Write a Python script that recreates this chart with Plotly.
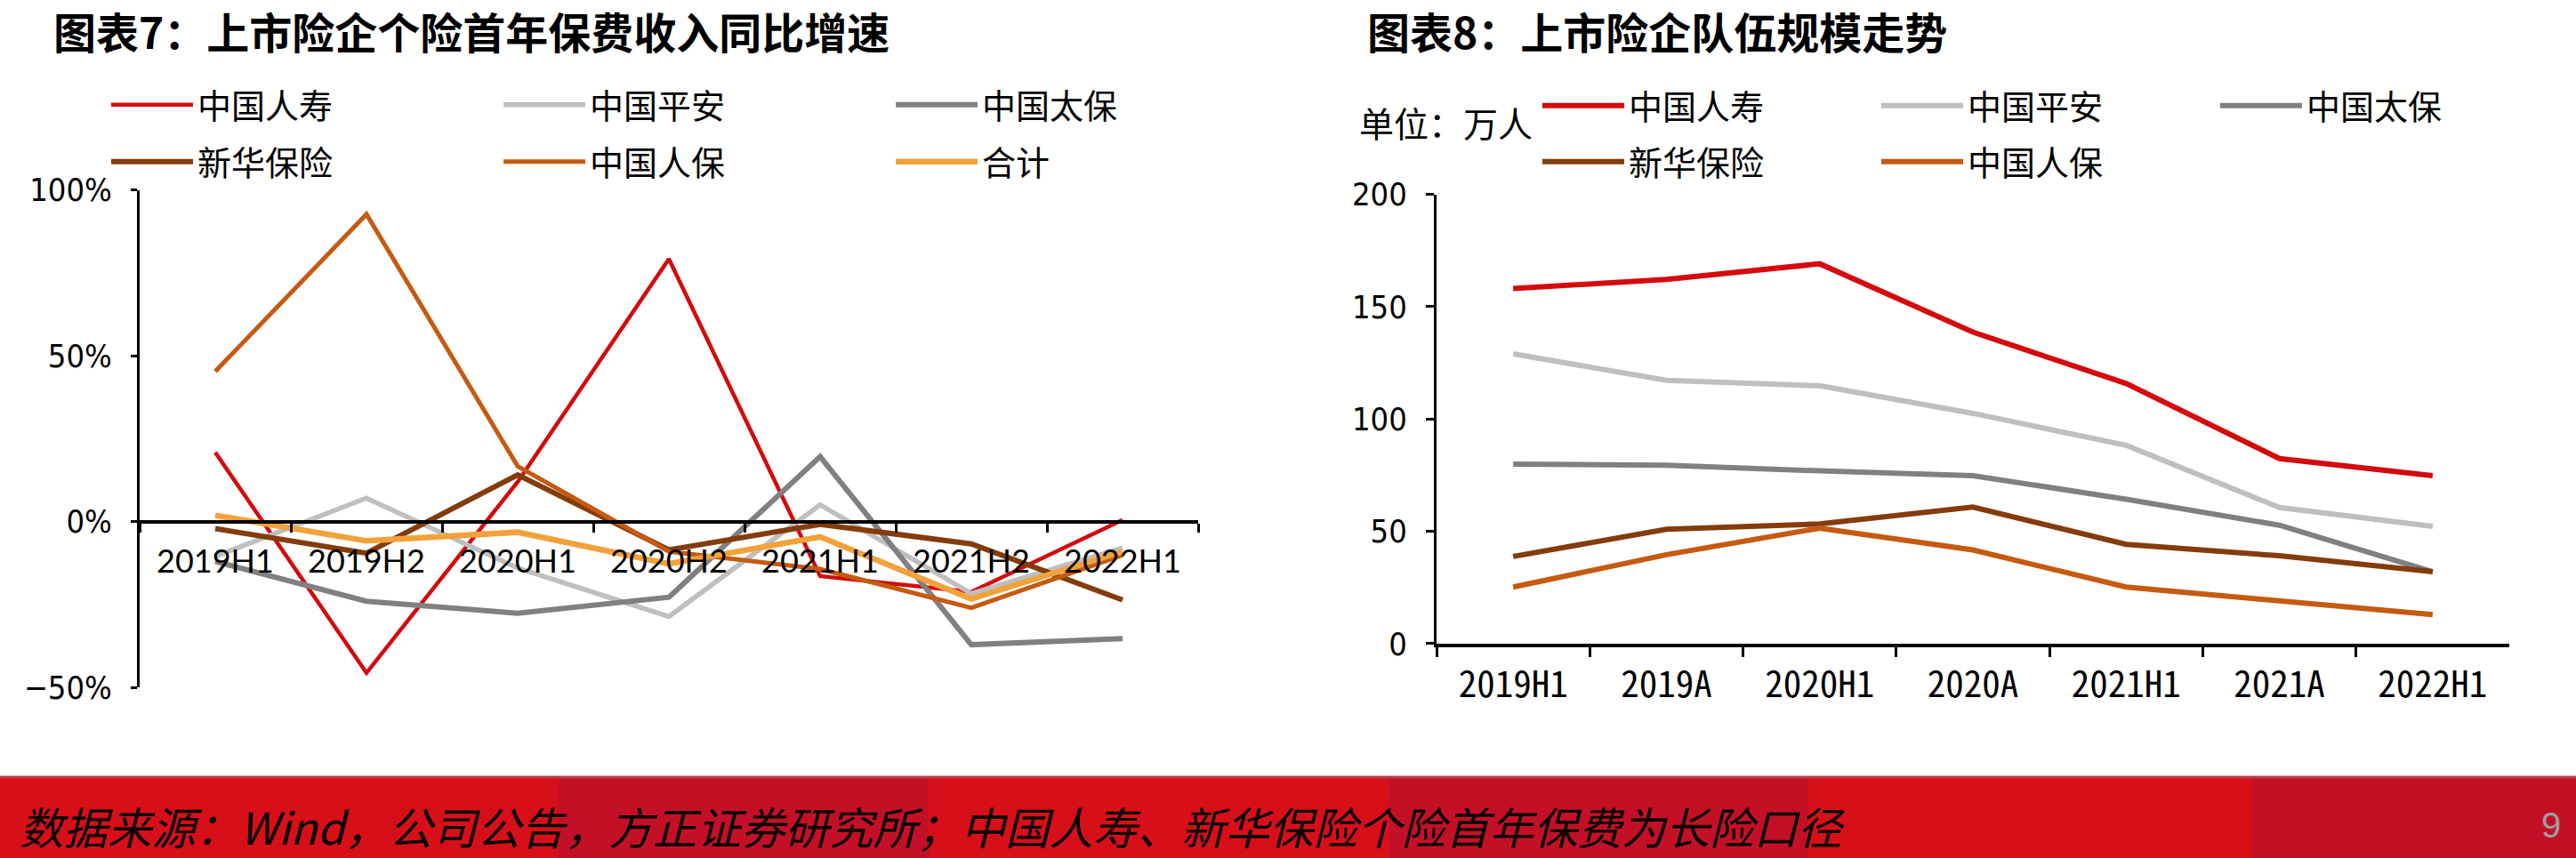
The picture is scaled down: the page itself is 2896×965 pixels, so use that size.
import plotly.graph_objects as go

W, H = 2896, 965

# ---------------- data ----------------
cats_left = ['2019H1', '2019H2', '2020H1', '2020H2', '2021H1', '2021H2', '2022H1']
names = ['中国人寿', '中国平安', '中国太保', '新华保险', '中国人保', '合计']
renshou_g = [20.9, -45.6, 12.0, 79.2, -16.4, -21.2, 0.5]
pingan_g = [-10.5, 7.1, -14.0, -28.6, 5.1, -21.7, -7.9]
taibao_g = [-12.0, -24.0, -27.6, -22.8, 19.6, -37.1, -35.3]
xinhua_g = [-2.1, -9.5, 14.1, -8.5, -0.8, -6.7, -23.6]
renbao_g = [45.3, 92.7, 16.7, -9.0, -14.3, -26.0, -10.1]
total_g = [1.9, -5.8, -3.2, -12.7, -4.6, -23.3, -9.0]

cats_right = ['2019H1', '2019A', '2020H1', '2020A', '2021H1', '2021A', '2022H1']
renshou_n = [158.1, 162.1, 169.1, 138.7, 115.8, 82.4, 74.8]
pingan_n = [129.0, 117.2, 114.8, 102.5, 88.3, 60.6, 52.2]
taibao_n = [79.9, 79.4, 76.9, 74.8, 64.3, 52.7, 32.0]
xinhua_n = [38.8, 50.9, 53.3, 60.8, 44.2, 39.1, 32.0]
renbao_n = [25.2, 39.6, 51.4, 41.7, 25.2, 19.1, 12.9]

colors = ['#D40A0E', '#BFBFBF', '#808080', '#843C0C', '#C55A11', '#F2A23A']
widths_left = [4.5, 5.5, 6, 6, 5, 6.5]

CJK = 'Noto Sans CJK SC'
NARROW = 'Liberation Sans Narrow, DejaVu Sans Condensed, Arial Narrow, sans-serif'


def px_x(p):
    return p / W


def px_y(p):
    return 1 - p / H


fig = go.Figure()

left_series = [renshou_g, pingan_g, taibao_g, xinhua_g, renbao_g, total_g]
for i, (nm, vals) in enumerate(zip(names, left_series)):
    fig.add_trace(go.Scatter(
        x=cats_left, y=vals, name=nm, mode='lines',
        line=dict(color=colors[i], width=widths_left[i]),
        xaxis='x', yaxis='y',
        legend='legend' if i < 3 else 'legend2',
        hoverinfo='skip'))

right_series = [renshou_n, pingan_n, taibao_n, xinhua_n, renbao_n]
for i, (nm, vals) in enumerate(zip(names[:5], right_series)):
    fig.add_trace(go.Scatter(
        x=cats_right, y=vals, name=nm, mode='lines',
        line=dict(color=colors[i], width=6),
        xaxis='x2', yaxis='y2',
        legend='legend3' if i < 3 else 'legend4',
        hoverinfo='skip'))

# ---- axes geometry ----
ly0, ly1 = px_y(773.2), px_y(213.7)
lrange = [-50, 100]
zero_pos = ly0 + (0 - lrange[0]) / (lrange[1] - lrange[0]) * (ly1 - ly0)

ry0, ry1 = px_y(723.9), px_y(218.6)

fig.update_layout(
    width=W, height=H, autosize=False,
    margin=dict(l=0, r=0, t=0, b=0, autoexpand=False),
    paper_bgcolor='white', plot_bgcolor='rgba(0,0,0,0)',
    xaxis=dict(domain=[px_x(157), px_x(1347)], type='category',
               range=[-0.5, 6.5], anchor='free', position=zero_pos,
               showline=True, linecolor='black', linewidth=4,
               ticks='outside', tickson='boundaries', ticklen=10,
               tickwidth=3, tickcolor='black', showgrid=False,
               tickfont=dict(family='Lato, Open Sans, sans-serif', size=36, color='black'),
               ticklabelstandoff=12, fixedrange=True),
    yaxis=dict(domain=[ly0, ly1], range=lrange, dtick=50, ticksuffix='%',
               showline=True, linecolor='black', linewidth=3,
               ticks='outside', ticklen=7, tickwidth=3, tickcolor='black',
               showgrid=False, zeroline=False, anchor='x',
               tickfont=dict(family=NARROW, size=36, color='black'),
               ticklabelstandoff=14, fixedrange=True),
    xaxis2=dict(domain=[px_x(1615), px_x(2821)], type='category',
                range=[-0.5, 6.5], anchor='y2',
                showline=True, linecolor='black', linewidth=4,
                ticks='outside', tickson='boundaries', ticklen=11,
                tickwidth=3, tickcolor='black', showgrid=False,
                tickfont=dict(family='Noto Sans Mono CJK SC, DejaVu Sans Mono, monospace', size=41, color='black'),
                ticklabelstandoff=7, fixedrange=True),
    yaxis2=dict(domain=[ry0, ry1], range=[0, 200], dtick=50,
                showline=True, linecolor='black', linewidth=3,
                ticks='outside', ticklen=9, tickwidth=3, tickcolor='black',
                showgrid=False, zeroline=False, anchor='x2',
                tickfont=dict(family=NARROW, size=36, color='black'),
                ticklabelstandoff=14, fixedrange=True),
    showlegend=True,
)

leg_common = dict(orientation='h', xanchor='left', yanchor='middle',
                  xref='container', yref='container',
                  bgcolor='rgba(0,0,0,0)', itemwidth=92,
                  entrywidthmode='pixels',
                  font=dict(family=CJK, size=38, color='black'),
                  itemclick=False, itemdoubleclick=False)
fig.update_layout(
    legend=dict(leg_common, x=px_x(120), y=px_y(118), entrywidth=334),
    legend2=dict(leg_common, x=px_x(120), y=px_y(182), entrywidth=334),
    legend3=dict(leg_common, x=px_x(1729), y=px_y(119), entrywidth=274),
    legend4=dict(leg_common, x=px_x(1729), y=px_y(182), entrywidth=274),
)

# ---- footer band ----
stripes = [(0, 628, '#D70F19'), (628, 1044, '#C41027'), (1044, 1562, '#D70F19'),
           (1562, 2033, '#C41027'), (2033, 2532, '#D70F19'), (2532, 2896, '#C41027')]
shapes = []
for a, b, c in stripes:
    shapes.append(dict(type='rect', xref='paper', yref='paper',
                       x0=px_x(a), x1=px_x(b), y0=0, y1=px_y(874),
                       fillcolor=c, line=dict(width=0), layer='below'))
shapes.append(dict(type='line', xref='paper', yref='paper', x0=0, x1=1,
                   y0=px_y(874), y1=px_y(874), line=dict(color='#B5414B', width=3)))
fig.update_layout(shapes=shapes)

annotations = [
    dict(text='<b>图表7：上市险企个险首年保费收入同比增速</b>', x=px_x(58), y=px_y(34),
         xref='paper', yref='paper', xanchor='left', yanchor='middle', showarrow=False,
         font=dict(family=CJK, size=48, color='black')),
    dict(text='<b>图表8：上市险企队伍规模走势</b>', x=px_x(1535), y=px_y(34),
         xref='paper', yref='paper', xanchor='left', yanchor='middle', showarrow=False,
         font=dict(family=CJK, size=48, color='black')),
    dict(text='单位：万人', x=px_x(1526), y=px_y(137),
         xref='paper', yref='paper', xanchor='left', yanchor='middle', showarrow=False,
         font=dict(family=CJK, size=39, color='black')),
    dict(text='数据来源：Wind，公司公告，方正证券研究所；中国人寿、新华保险个险首年保费为长险口径',
         x=px_x(20), y=px_y(928), xref='paper', yref='paper', xanchor='left',
         yanchor='middle', showarrow=False,
         font=dict(family=CJK, size=49.5, color='black', style='italic')),
    dict(text='9', x=px_x(2868), y=px_y(928), xref='paper', yref='paper',
         xanchor='center', yanchor='middle', showarrow=False,
         font=dict(family='Liberation Sans, sans-serif', size=40, color='#9E9E9E')),
]
fig.update_layout(annotations=annotations)

fig.write_html('out.html')
